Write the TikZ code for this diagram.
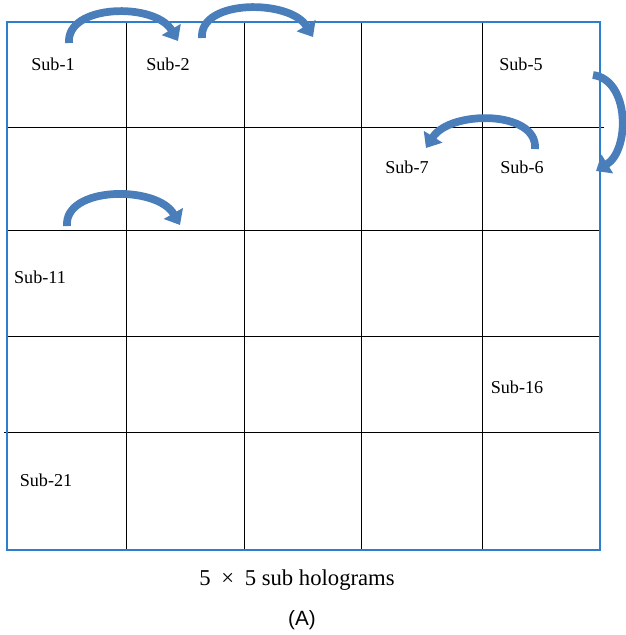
\documentclass[tikz,border=0pt]{standalone}
\usepackage{fontspec}
\setmainfont{Liberation Serif}
\newfontfamily\capsans{Liberation Sans}
\usetikzlibrary{arrows.meta}
\definecolor{boxblue}{HTML}{2B7FCD}
\definecolor{arrblue}{HTML}{4A7EBB}
\tikzset{
  grid/.style={line width=0.7pt, black},
  frame/.style={line width=1.6pt, boxblue},
  lbl/.style={font=\fontsize{13.6}{15}\selectfont, inner sep=0pt},
  curvearr/.style={line width=5.8pt, arrblue, -{Triangle[width=16pt,length=10pt]}},
}
\begin{document}
\begin{tikzpicture}[x=0.75pt,y=-0.75pt]
\useasboundingbox (0,0) rectangle (625,635);
% grid
\foreach \x in {126,244,361,482} \draw[grid] (\x,22) -- (\x,550);
\draw[grid] (7,127) -- (604,127);
\draw[grid] (7,230) -- (600,230);
\draw[grid] (7,336) -- (600,336);
\draw[grid] (4,432) -- (600,432);
% frame
\draw[frame] (7,22) rectangle (600,550);
% labels
\node[lbl] (s1)  at (53,64)  {Sub-1};
\node[lbl] (s2)  at (168,64) {Sub-2};
\node[lbl] (s5)  at (521,64) {Sub-5};
\node[lbl] (s6)  at (522,167) {Sub-6};
\node[lbl] (s7)  at (407,167) {Sub-7};
\node[lbl] (s11) at (40,277) {Sub-11};
\node[lbl] (s16) at (517,387) {Sub-16};
\node[lbl] (s21) at (46,480) {Sub-21};
\node[lbl, font=\fontsize{17}{19}\selectfont] (cap) at (297,580) {5\hspace{8pt}×\hspace{8pt}5 sub holograms};
\node[inner sep=0pt, font=\capsans\fontsize{15.5}{18}\selectfont] (lab) at (302,620) {(A)};
% curved arrows
\coordinate (a1s) at (69,43);  \coordinate (a1e) at (178,41);
\coordinate (a2s) at (202,38); \coordinate (a2e) at (313,37);
\coordinate (a3s) at (67,226); \coordinate (a3e) at (180,225);
\coordinate (a4s) at (535,149); \coordinate (a4e) at (426,148);
\coordinate (a5s) at (593,75); \coordinate (a5e) at (596,171);
\draw[curvearr] (a1s) .. controls (66,4) and (155,2) .. (a1e);
\draw[curvearr] (a2s) .. controls (199,-1) and (290,-1) .. (a2e);
\draw[curvearr] (a3s) .. controls (64,186) and (157,185) .. (a3e);
\draw[curvearr] (a4s) .. controls (538,110) and (450,110) .. (a4e);
\draw[curvearr] (a5s) .. controls (630,80) and (630,150) .. (a5e);
\end{tikzpicture}
\end{document}
